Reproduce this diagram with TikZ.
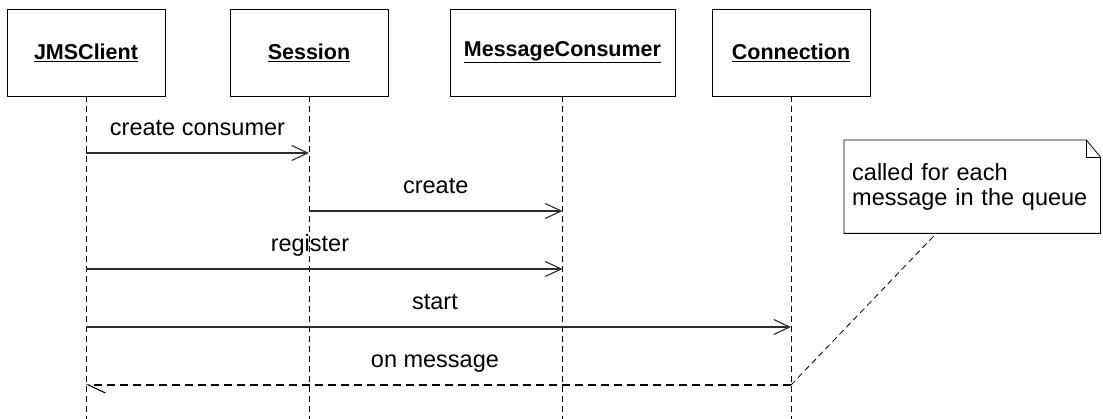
\documentclass[tikz,border=0pt]{standalone}
\usepackage{fontspec}
\setmainfont{Liberation Sans}
\usetikzlibrary{arrows.meta,calc}
\definecolor{msgcol}{RGB}{45,45,45}

\begin{document}
\begin{tikzpicture}[
  x=1pt,y=-1pt,
  head/.style={draw,thick,fill=white,minimum width=158pt,minimum height=87pt,
               inner sep=0pt,font=\bfseries\fontsize{21.5}{24}\selectfont},
  life/.style={line width=0.8pt,dash pattern=on 6pt off 4pt},
  msg/.style={line width=1.3pt,msgcol,-{Straight Barb[length=16pt,width=15pt,line width=1.1pt]}},
  reply/.style={line width=1.1pt,dash pattern=on 8pt off 5pt,
                -{Straight Barb[left,length=17pt,width=16pt,line width=1.1pt]}},
  lbl/.style={anchor=base,yshift=17pt,inner sep=0pt,text=black,
              font=\fontsize{23.5}{26}\selectfont},
  notebox/.style={minimum height=93pt,text width=240pt,inner xsep=8pt,inner ysep=0pt,
                  align=left,font=\fontsize{23.5}{25.5}\selectfont},
]
  \useasboundingbox (0,0) rectangle (1103,419);
  \coordinate (bottom) at (0,419);

  % --- lifeline heads ---
  \node[head] (jms) at (86,52.5) {\underline{JMSClient}};
  \node[head] (ses) at (309,52.5) {\underline{Session}};
  \node[head,minimum width=225pt] (cons) at (562.5,52.5) {\underline{MessageConsumer}};
  \node[head] (conn) at (791,52.5) {\underline{Connection}};

  % --- lifelines ---
  \foreach \obj in {jms,ses,cons,conn}
    \draw[life] (\obj) -- (\obj |- bottom);

  % --- messages ---
  \draw[msg] (jms |- 0,153) -- node[lbl] {create consumer} (ses |- 0,153);
  \draw[msg] (ses |- 0,211) -- node[lbl] {create} (cons |- 0,211);
  \draw[msg] (jms |- 0,269) -- node[lbl,pos=0.47] {register} (cons |- 0,269);
  \draw[msg] (jms |- 0,327) -- node[lbl,pos=0.495] {start} (conn |- 0,327);
  \coordinate (onmsg) at (conn |- 0,385);
  \draw[reply] (onmsg) -- node[lbl,pos=0.505] {on message} (jms |- 0,385);

  % --- note ---
  \node[notebox,anchor=north west] (note) at (844,140)
    {called for each\\message in the queue};
  \draw[thick] (note.north west) -- ($(note.north east)+(-14,0)$)
    -- ($(note.north east)+(0,17)$) -- (note.south east) -- (note.south west) -- cycle;
  \draw[thick] ($(note.north east)+(-14,0)$) -- ($(note.north east)+(-14,17)$)
    -- ($(note.north east)+(0,17)$);
  \coordinate (notefoot) at ($(note.south west)!0.36!(note.south east)$);
  \draw[life] (onmsg) -- (notefoot);

\end{tikzpicture}
\end{document}
